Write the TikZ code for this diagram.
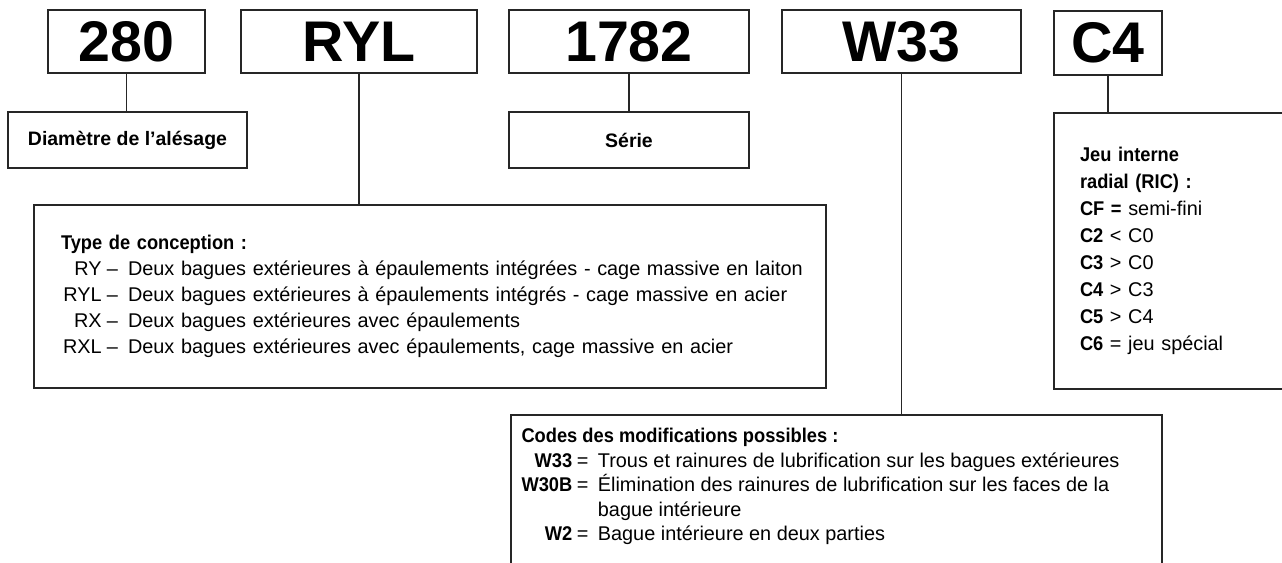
\documentclass[tikz,border=0pt]{standalone}
\usepackage{fontspec}
\setmainfont{Liberation Sans}[BoldFeatures={FakeStretch=0.92}]
\newfontfamily\plainsans{Liberation Sans}
\usetikzlibrary{positioning}
\newcommand{\pxu}{0.75pt}
\tikzset{
  codebox/.style={draw=black!85, line width=1.1pt, inner sep=0pt, minimum height=63*\pxu,
    font=\fontsize{43}{43}\plainsans\bfseries},
  namebox/.style={draw=black!85, line width=1.1pt, inner sep=0pt, minimum height=56*\pxu,
    font=\fontsize{14.6}{18}\plainsans\bfseries},
  infobox/.style={draw=black!85, line width=1.1pt, inner ysep=0pt, align=left,
    font=\fontsize{14.9}{20.25}\selectfont},
  link/.style={draw=black!85, line width=0.8pt},
}
\begin{document}
\begin{tikzpicture}[x=0.75pt, y=-0.75pt]
\useasboundingbox (0,0) rectangle (1282,562);
% designation
\node[codebox, minimum width=157*\pxu] (bore) at (126.5,41.5) {280};
\node[codebox, minimum width=236*\pxu] (design) at (359,41.5) {RYL};
\node[codebox, minimum width=240*\pxu] (series) at (629,41.5) {1782};
\node[codebox, minimum width=239*\pxu] (mods) at (901.5,41.5) {W33};
\node[codebox, minimum width=108*\pxu, minimum height=64*\pxu] (clear) at (1108,43) {C4};
% labels
\node[namebox, minimum width=239*\pxu] (boretxt) at (127.5,140) {Diamètre de l’alésage};
\node[namebox, minimum width=240*\pxu] (seriestxt) at (629,140) {Série};
\node[infobox, inner xsep=27*\pxu, text width=738*\pxu, minimum height=183*\pxu,
  font=\fontsize{14.9}{19.5}\selectfont] (designtxt) at (430,296.5) {%
  \begin{tabular}{@{\hspace{1.5pt}}r@{\hspace{4pt}–\hspace{7.5pt}}l}
  \multicolumn{2}{@{}l}{\textbf{Type de conception :}}\\
  RY & Deux bagues extérieures à épaulements intégrées - cage massive en laiton\\
  RYL & Deux bagues extérieures à épaulements intégrés - cage massive en acier\\
  RX & Deux bagues extérieures avec épaulements\\
  RXL & Deux bagues extérieures avec épaulements, cage massive en acier
  \end{tabular}};
\node[infobox, inner xsep=26*\pxu, text width=208*\pxu, minimum height=276*\pxu] (cleartxt) at (1184,251) {%
  \textbf{Jeu interne}\\
  \textbf{radial (RIC) :}\\
  \textbf{CF =} semi-fini\\
  \textbf{C2} < C0\\
  \textbf{C3} > C0\\
  \textbf{C4} > C3\\
  \textbf{C5} > C4\\
  \textbf{C6} = jeu spécial};
\node[infobox, minimum width=651*\pxu, minimum height=205*\pxu] (modstxt) at (836.5,517.5) {};
\node[anchor=north west, inner sep=0pt, align=left, font=\fontsize{14.9}{18.4}\selectfont] (modslist)
  at ([shift={(11,11)}]modstxt.north west) {%
  \begin{tabular}{@{}r@{\hspace{3.5pt}}c@{\hspace{7pt}}l}
  \multicolumn{3}{@{}l}{\textbf{Codes des modifications possibles :}}\\
  \textbf{W33} & = & Trous et rainures de lubrification sur les bagues extérieures\\
  \textbf{W30B} & = & Élimination des rainures de lubrification sur les faces de la\\
  & & bague intérieure\\
  \textbf{W2} & = & Bague intérieure en deux parties
  \end{tabular}};
% connectors
\draw[link] (bore.south) -- (bore.south |- boretxt.north);
\draw[link] (design.south) -- (design.south |- designtxt.north);
\draw[link] (series.south) -- (seriestxt.north);
\draw[link] (mods.south) -- (mods.south |- modstxt.north);
\draw[link] (clear.south) -- (clear.south |- cleartxt.north);
\end{tikzpicture}
\end{document}
